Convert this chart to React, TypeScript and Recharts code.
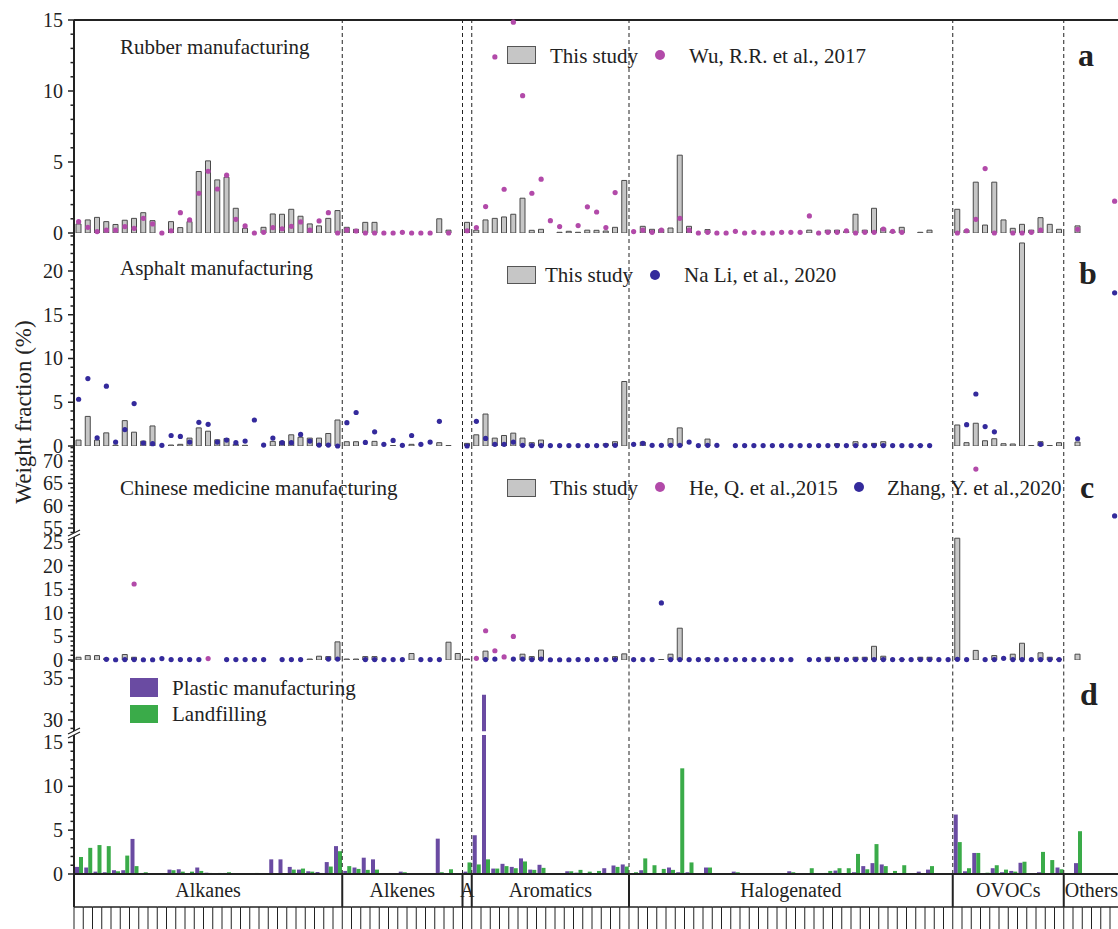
import React from "react";
import { ComposedChart, Bar, Line, XAxis, YAxis, ReferenceLine } from "recharts";

const FONT = "'Liberation Serif', 'Times New Roman', serif";
const GRAY = "#c6c6c6";
const MAGENTA = "#b24aa9";
const BLUE = "#342a9c";
const PURPLE = "#6a4ba2";
const GREEN = "#3aab49";

// compound groups along the x axis
const groupNames = ["Alkanes", "Alkenes", "A", "Aromatics", "Halogenated", "OVOCs", "Others"];
const groupSizes = [29, 13, 1, 17, 35, 12, 6];

const groupStarts = groupSizes.map((_, g) => groupSizes.slice(0, g).reduce((s, n) => s + n, 0));
const N = groupSizes.reduce((s, n) => s + n, 0);
const species = groupNames.flatMap((g, gi) =>
  Array.from({ length: groupSizes[gi] }, (_, k) => `${g} ${k + 1}`)
);

// a: Rubber manufacturing
const rubberThis = [
  0.64, 0.92, 1.1, 0.8, 0.6, 0.9, 1.03, 1.43, 0.87, 0, 0.8, 0.38, 0.8, 4.33, 5.08, 3.74, 3.93, 1.74, 0.33, 0,
  0.4, 1.34, 1.32, 1.67, 1.18, 0.64, 0.5, 1.03, 1.58,
  0.4, 0.26, 0.75, 0.75, 0, 0, 0, 0, 0, 0, 1.0, 0.2, 0,
  0.75,
  0.2, 0.92, 1.03, 1.13, 1.32, 2.45, 0.19, 0.26, 0, 0.05, 0.12, 0.05, 0.2, 0.19, 0.14, 0.4, 3.7,
  0, 0.47, 0.26, 0.26, 0.35, 5.48, 0.47, 0, 0.24, 0, 0, 0, 0, 0, 0, 0, 0, 0, 0, 0.2,
  0, 0.2, 0.2, 0.12, 1.32, 0.2, 1.74, 0.33, 0.12, 0.4, 0, 0.05, 0.2, 0, 0,
  1.67, 0.2, 3.58, 0.56, 3.58, 0.92, 0.33, 0.61, 0.2, 1.08, 0.61, 0.26,
  0, 0.5, 0, 0, 0, 0,
];
const rubberWu = [
  0.8, 0.4, 0.1, 0.2, 0.2, 0.45, 0.33, 1.03, 0.64, 0, 0.16, 1.43, 0.92, 2.8, 4.35, 3.1, 4.07, 0.96, 0.5, 0,
  0.05, 0.38, 0.3, 0.47, 0.78, 0.2, 0.85, 1.43, 0,
  0.2, 0.14, 0, 0, 0, 0, 0.05, 0, 0, 0, null, 0, null,
  0.16,
  0.38, 1.86, 12.4, 3.08, 14.85, 9.67, 2.8, 3.79, 0.87, 0.45, null, 0.52, 1.84, 1.48, 0.38, 2.85, null,
  0.1, 0.2, 0.05, 0.2, null, 1.03, 0.2, 0, 0.05, 0, 0, 0.12, 0, 0.05, 0, 0, 0.05, 0.05, 0.05, 1.2,
  0, 0.05, 0.05, 0.16, 0, 0.05, 0.05, 0.28, 0.12, 0.05, null, null, null, null, null,
  0, 0.16, 0.96, 4.54, 0, null, 0, 0, 0.05, 0.2, null, null,
  null, 0.26, null, null, null, 2.24,
];

// b: Asphalt manufacturing
const asphaltThis = [
  0.68, 3.38, 0.68, 1.5, 0.1, 2.9, 1.58, 0.56, 2.29, 0, 0.11, 0.19, 0.9, 2.07, 1.69, 0.71, 0.86, 0.19, 0.08, 0,
  0, 0.53, 0.53, 1.28, 1.0, 0.9, 0.9, 1.43, 2.97,
  0.49, 0.49, 0, 0.53, 0, 0.05, 0, 0.19, 0, 0, 0.38, 0.05, 0,
  0.3,
  1.28, 3.65, 0.9, 1.2, 1.47, 0.9, 0.38, 0.68, 0, 0, 0, 0, 0, 0, 0.26, 0.49, 7.37,
  0, 0.45, 0, 0, 0.83, 2.07, 0, 0, 0.79, 0, 0, 0, 0, 0, 0, 0, 0, 0, 0, 0,
  0, 0, 0.26, 0, 0.49, 0, 0.3, 0.49, 0, 0, 0, 0.1, 0, 0, 0,
  2.4, 0.38, 2.6, 0.6, 0.83, 0.26, 0.23, 23.2, 0.05, 0.49, 0.05, 0.38,
  0, 0.45, 0, 0, 0, 0,
];
const asphaltLi = [
  5.34, 7.7, 0.94, 6.84, 0.45, 1.88, 4.85, 0.34, 0.26, 0.08, 1.2, 1.09, 0.45, 2.7, 2.48, 0.45, 0.68, 0.38, 0.56, 2.97,
  0.1, 0.9, 0.38, 0.38, 1.32, 0.56, 0.1, 0.1, 0,
  2.67, 3.83, 0.41, 1.62, 0.19, 0.64, 0.08, 1.2, 0.19, 0.45, 2.82, null, null,
  0,
  2.82, 0.86, 0.19, 0.19, 0.45, 0.08, 0.05, 0.05, 0.05, 0.05, 0.05, 0.05, 0.05, 0.05, 0.08, 0.08, null,
  0.19, 0.3, 0.08, 0.08, 0.08, 0.08, 0.45, 0.05, 0.08, 0.08, null, 0.05, 0.05, 0.05, 0.05, 0.05, 0.05, 0.05, 0.05, 0.05,
  0.05, 0.05, 0.05, 0.05, 0.05, 0.05, 0.05, 0.05, 0.05, 0.05, 0.05, 0.05, 0.05, null, null,
  null, 2.44, 5.94, 2.22, 1.62, null, null, null, null, 0.19, null, null,
  null, 0.83, null, null, null, 17.5,
];

// c: Chinese medicine manufacturing
const medicineThis = [
  0.58, 0.94, 0.94, 0.36, 0, 1.16, 0.58, 0, 0, 0, 0, 0, 0, 0, 0, 0, 0, 0, 0, 0,
  0, 0, 0, 0, 0, 0.2, 0.8, 0.72, 3.84,
  0.2, 0.2, 0.72, 0.72, 0, 0, 0, 1.38, 0, 0, 0, 3.77, 1.38,
  0.2,
  0, 1.88, 0, 0, 0, 1.23, 0.72, 2.1, 0, 0, 0, 0, 0, 0, 0, 0.72, 1.3,
  0, 0, 0, 0.1, 1.23, 6.74, 0, 0, 0.4, 0, 0, 0, 0, 0, 0, 0, 0, 0, 0, 0,
  0, 0.58, 0.58, 0, 0.58, 0.58, 2.9, 0.8, 0, 0.2, 0, 0.58, 0.58, 0, 0,
  25.8, 0, 2.03, 0, 0.94, 0, 1.23, 3.55, 0, 1.52, 0.58, 0.2,
  0, 1.23, 0, 0, 0, 0,
];
const medicineHe = [
  null, null, null, null, null, null, 16.1, null, null, null, null, null, null, null, 0.3, null, null, null, null, null,
  null, null, null, null, null, null, null, null, null,
  null, null, null, null, null, null, null, null, null, null, null, null, null,
  null,
  0.36, 6.2, 1.96, 0.65, 5.0, null, null, null, null, null, null, null, null, null, null, null, null,
  null, null, null, null, null, null, null, null, null, null, null, null, null, null, null, null, null, null, null, null,
  null, null, null, null, null, null, null, null, null, null, null, null, null, null, null,
  null, null, 68.2, null, null, null, null, null, null, null, null, null,
  null, null, null, null, null, null,
];
const medicineZhang = [
  null, null, null, 0.15, 0.05, 0.1, 0.1, 0.05, 0.05, 0.3, 0.1, 0.1, 0.1, 0.1, null, null, 0.1, 0.1, 0.1, 0.1,
  0.1, null, 0.1, 0.1, 0.1, null, null, 0.2, 0.2,
  null, null, 0.1, 0.1, 0.1, 0.1, 0.1, null, 0.1, 0.1, 0.1, null, null,
  null,
  null, 0.1, 0.2, null, 0.2, 0.2, 0.1, 0.2, 0.05, 0.05, 0.05, 0.1, 0.1, 0.1, 0.1, 0.1, null,
  0.1, 0.1, 0.1, 12.1, 0.1, 0.1, 0.1, 0.1, 0.1, 0.1, 0.1, 0.1, 0.1, 0.1, 0.1, 0.1, 0.1, 0.1, null, 0.1,
  0.1, 0.1, 0.1, 0.1, 0.1, 0.1, 0.1, 0.1, 0.1, 0.1, 0.1, 0.1, 0.1, 0.1, 0.1,
  0.15, 0.1, null, 0.1, 0.1, 0.36, 0.1, 0.1, 0.1, 0.1, 0.1, 0.1,
  null, null, null, null, null, 57.7,
];

// d: Plastic manufacturing / Landfilling
const plastic = [
  0.81, 0.74, 0.27, 0.2, 0.43, 0.43, 4.0, 0.12, 0, 0, 0.5, 0.54, 0.04, 0.74, 0.15, 0.05, 0.12, 0, 0.04, 0,
  0, 1.67, 1.67, 0.81, 0.5, 0.31, 0.23, 1.36, 3.18,
  0.35, 0.74, 1.86, 1.67, 0, 0, 0.27, 0, 0, 0, 4.03, 0, 0,
  0.27,
  4.42, 33.0, 0.62, 1.16, 0.81, 1.78, 0.5, 1.05, 0, 0, 0.31, 0.15, 0.1, 0.04, 0.66, 0.97, 1.09,
  0.04, 0.43, 0, 0, 0.74, 0.2, 0.2, 0, 0.74, 0, 0, 0.27, 0, 0, 0.05, 0.05, 0, 0.31, 0, 0,
  0, 0.12, 0.39, 0, 0.2, 0.9, 1.24, 1.09, 0.05, 0, 0, 0.27, 0.5, 0, 0,
  6.78, 0.31, 2.4, 0, 0.66, 0.2, 0.35, 1.28, 0, 0.2, 0, 0.74,
  0, 1.24, 0, 0, 0, 0,
];
const landfill = [
  1.94, 2.98, 3.3, 3.18, 0.31, 2.1, 0.9, 0.2, 0.04, 0.05, 0.43, 0.27, 0.27, 0.35, 0.12, 0.12, 0.2, 0, 0, 0.12,
  0, 0.08, 0.04, 0.5, 0.62, 0.27, 0.12, 0.85, 2.6,
  0.9, 0.58, 0.47, 0.5, 0, 0, 0.2, 0, 0, 0, 0.2, 0.54, 0,
  1.32,
  1.09, 1.67, 0.62, 0.9, 0.66, 1.43, 0.47, 0.7, 0, 0.04, 0.31, 0.47, 0.27, 0.35, 0.12, 0.81, 0.85,
  0.2, 1.78, 1.0, 0.58, 0.47, 12.05, 1.32, 0, 0.74, 0.04, 0, 0.2, 0.04, 0.04, 0.08, 0.08, 0, 0.2, 0, 0.66,
  0, 0.35, 0.66, 0.66, 2.29, 0.54, 3.41, 0.9, 0.35, 1.0, 0, 0.04, 0.9, 0, 0,
  3.64, 0.66, 2.4, 0.15, 1.0, 0.5, 0.27, 1.4, 0.04, 2.52, 1.59, 0.54,
  0, 4.88, 0, 0, 0, 0,
];

// y-axis ticks per segment
const ticksA = [0, 1, 2, 3, 4, 5, 6, 7, 8, 9, 10, 11, 12, 13, 14, 15];
const ticksB = [0, 1, 2, 3, 4, 5, 6, 7, 8, 9, 10, 11, 12, 13, 14, 15, 16, 17, 18, 19, 20, 21, 22, 23, 24];
const ticksCUp = [54, 55, 56, 57, 58, 59, 60, 61, 62, 63, 64, 65, 66, 67, 68, 69, 70, 71, 72, 73];
const ticksCLow = [0, 1, 2, 3, 4, 5, 6, 7, 8, 9, 10, 11, 12, 13, 14, 15, 16, 17, 18, 19, 20, 21, 22, 23, 24, 25];
const ticksDUp = [29, 30, 31, 32, 33, 34, 35, 36, 37];
const ticksDLow = [0, 1, 2, 3, 4, 5, 6, 7, 8, 9, 10, 11, 12, 13, 14, 15];

const seriesKeys = ["rubberThis", "rubberWu", "asphaltThis", "asphaltLi", "medicineThis", "medicineHe", "medicineZhang", "plastic", "landfill"];
const seriesVals = [rubberThis, rubberWu, asphaltThis, asphaltLi, medicineThis, medicineHe, medicineZhang, plastic, landfill];

const rows = species.map((name, i) => {
  const r: any = { name, idx: i + 0.5 };
  seriesKeys.forEach((k, s) => (r[k] = seriesVals[s][i]));
  return r;
});
// rows for the upper part of a broken axis: only values above its floor
const rowsAbove = (lo: number) =>
  rows.map((r) => {
    const o: any = { name: r.name, idx: r.idx };
    seriesKeys.forEach((k) => (o[k] = r[k] != null && r[k] > lo ? r[k] : null));
    return o;
  });

const CW = 1130;
const PLOT_LEFT = 74;
const BAND = 9.25;
const RIGHT = CW - PLOT_LEFT - N * BAND;
const bounds = groupStarts.slice(1);

function makeYTick(brk?: number) {
  return (p: any) => {
    const { x, y, payload } = p;
    const v = payload.value as number;
    if (brk !== undefined && Math.abs(v - brk) < 1e-6) {
      const cy = y - 2;
      return (
        <g>
          <polygon points={`${x - 6},${cy + 1} ${x + 6},${cy - 5} ${x + 6},${cy - 1} ${x - 6},${cy + 5}`} fill="#fff" />
          <line x1={x - 6} y1={cy + 1} x2={x + 6} y2={cy - 5} stroke="#222" strokeWidth={1.2} />
          <line x1={x - 6} y1={cy + 5} x2={x + 6} y2={cy - 1} stroke="#222" strokeWidth={1.2} />
        </g>
      );
    }
    const major = v % 5 === 0;
    return (
      <g>
        <line x1={x - (major ? 6 : 3.5)} y1={y} x2={x} y2={y} stroke="#222" strokeWidth={1.5} />
        {major && (
          <text x={x - 11} y={y} dy={7} textAnchor="end" fontSize={20} fill="#222" fontFamily={FONT}>
            {v}
          </text>
        )}
      </g>
    );
  };
}

const StripTick = (p: any) => {
  const { x, y, payload } = p;
  const i = species.indexOf(payload.value);
  const left = x - BAND / 2;
  const g = groupStarts.indexOf(i);
  return (
    <g>
      <line x1={left} x2={left + BAND} y1={y + 33} y2={y + 33} stroke="#222" strokeWidth={1.5} />
      <line x1={left} x2={left} y1={y + 33} y2={y + 56} stroke="#222" strokeWidth={1} />
      {g >= 0 && <line x1={left} x2={left} y1={y} y2={y + 33} stroke="#222" strokeWidth={2} />}
      {g >= 0 && (
        <text x={left + (groupSizes[g] * BAND) / 2} y={y + 23} textAnchor="middle" fontSize={20} fill="#222" fontFamily={FONT}>
          {groupNames[g]}
        </text>
      )}
    </g>
  );
};

type SegProps = {
  top: number;
  bottom: number;
  domain: [number, number];
  ticks: number[];
  data: any[];
  brk?: number;
  axisBottom?: boolean;
  topBorder?: boolean;
  strip?: boolean;
  children: React.ReactNode;
};

function Segment({ top, bottom, domain, ticks, data, brk, axisBottom, topBorder, strip, children }: SegProps) {
  const MT = 13;
  const MB = strip ? 0 : 13;
  const xh = strip ? 56 : 0;
  const h = bottom - top + MT + MB + xh;
  const allTicks = brk !== undefined ? [...ticks, brk] : ticks;
  return (
    <div style={{ position: "absolute", left: 0, top: top - MT, width: CW, height: h }}>
      <ComposedChart width={CW} height={h} data={data} margin={{ top: MT, right: RIGHT, bottom: MB, left: 0 }} barGap={0}>
        <XAxis
          dataKey="name"
          scale="band"
          interval={0}
          height={xh}
          tickSize={0}
          tickMargin={0}
          axisLine={axisBottom ? { stroke: "#222", strokeWidth: 2 } : false}
          tick={strip ? StripTick : false}
        />
        <XAxis xAxisId="n" type="number" dataKey="idx" domain={[0, N]} hide allowDataOverflow />
        <YAxis
          width={PLOT_LEFT}
          domain={domain}
          ticks={allTicks}
          allowDataOverflow
          interval={0}
          tickSize={0}
          tickMargin={0}
          axisLine={{ stroke: "#222", strokeWidth: 2 }}
          tick={makeYTick(brk)}
        />
        {bounds.map((b) => (
          <ReferenceLine key={b} xAxisId="n" x={b} stroke="#222" strokeWidth={1} strokeDasharray="4 3" />
        ))}
        {topBorder && <ReferenceLine y={domain[1]} stroke="#222" strokeWidth={2} />}
        {children}
      </ComposedChart>
    </div>
  );
}

const grayBar = (key: string) => (
  <Bar key={key} dataKey={key} barSize={5} fill={GRAY} stroke="#4a4a4a" strokeWidth={1} isAnimationActive={false} />
);
const dots = (key: string, color: string) => (
  <Line
    key={key}
    dataKey={key}
    stroke="none"
    isAnimationActive={false}
    activeDot={false}
    dot={{ r: 2.6, fill: color, stroke: "none", clipDot: false }}
  />
);
const dBars = [
  <Bar key="plastic" dataKey="plastic" barSize={4} fill={PURPLE} isAnimationActive={false} />,
  <Bar key="landfill" dataKey="landfill" barSize={4} fill={GREEN} isAnimationActive={false} />,
];

const T = { fontFamily: FONT, fill: "#222" };

function Overlay() {
  return (
    <svg width={1118} height={929} style={{ position: "absolute", left: 0, top: 0, pointerEvents: "none" }}>
      <text transform="translate(31,412) rotate(-90)" textAnchor="middle" fontSize={23} {...T}>
        Weight fraction (%)
      </text>

      <text x={120} y={54} fontSize={21} {...T}>Rubber manufacturing</text>
      <rect x={507.5} y={46.5} width={28} height={17} fill={GRAY} stroke="#555" />
      <text x={550} y={63} fontSize={21} {...T}>This study</text>
      <circle cx={660} cy={55} r={5} fill={MAGENTA} />
      <text x={689} y={63} fontSize={21} {...T}>Wu, R.R. et al., 2017</text>
      <text x={1078} y={66} fontSize={32} fontWeight="bold" {...T}>a</text>

      <text x={120} y={275} fontSize={21} {...T}>Asphalt manufacturing</text>
      <rect x={507.5} y={266.5} width={28} height={17} fill={GRAY} stroke="#555" />
      <text x={545} y={282} fontSize={21} {...T}>This study</text>
      <circle cx={655} cy={275} r={5} fill={BLUE} />
      <text x={684} y={282} fontSize={21} {...T}>Na Li, et al., 2020</text>
      <text x={1079} y={284} fontSize={32} fontWeight="bold" {...T}>b</text>

      <text x={120} y={495} fontSize={21} {...T}>Chinese medicine manufacturing</text>
      <rect x={507.5} y={479.5} width={28} height={17} fill={GRAY} stroke="#555" />
      <text x={550} y={495} fontSize={21} {...T}>This study</text>
      <circle cx={660} cy={487} r={5} fill={MAGENTA} />
      <text x={689} y={495} fontSize={21} {...T}>He, Q. et al.,2015</text>
      <circle cx={859} cy={487} r={5} fill={BLUE} />
      <text x={887} y={495} fontSize={21} {...T}>Zhang, Y. et al.,2020</text>
      <text x={1080} y={498} fontSize={32} fontWeight="bold" {...T}>c</text>

      <rect x={130} y={678} width={28} height={19} fill={PURPLE} />
      <text x={172} y={695} fontSize={21} {...T}>Plastic manufacturing</text>
      <rect x={130} y={705} width={28} height={18} fill={GREEN} />
      <text x={172} y={721} fontSize={21} {...T}>Landfilling</text>
      <text x={1080} y={705} fontSize={32} fontWeight="bold" {...T}>d</text>
    </svg>
  );
}

export default function App() {
  return (
    <div style={{ position: "absolute", left: 0, top: 0, width: 1118, height: 929, overflow: "hidden", background: "#fff" }}>
      <Segment top={20} bottom={233} domain={[0, 15]} ticks={ticksA} data={rows} axisBottom topBorder>
        {[grayBar("rubberThis"), dots("rubberWu", MAGENTA)]}
      </Segment>
      <Segment top={233} bottom={446} domain={[0, 24.34]} ticks={ticksB} data={rows} axisBottom>
        {[grayBar("asphaltThis"), dots("asphaltLi", BLUE)]}
      </Segment>
      <Segment top={446} bottom={533} domain={[53.88, 73.36]} ticks={ticksCUp} data={rowsAbove(53.88)}>
        {[grayBar("medicineThis"), dots("medicineHe", MAGENTA), dots("medicineZhang", BLUE)]}
      </Segment>
      <Segment top={537} bottom={660} domain={[0, 26.06]} ticks={ticksCLow} data={rows} brk={26.06} axisBottom>
        {[grayBar("medicineThis"), dots("medicineHe", MAGENTA), dots("medicineZhang", BLUE)]}
      </Segment>
      <Segment top={660} bottom={731.5} domain={[28.63, 37.14]} ticks={ticksDUp} data={rowsAbove(28.63)}>
        {dBars}
      </Segment>
      <Segment top={735} bottom={874} domain={[0, 15.85]} ticks={ticksDLow} data={rows} brk={15.85} axisBottom strip>
        {dBars}
      </Segment>
      <Overlay />
    </div>
  );
}
